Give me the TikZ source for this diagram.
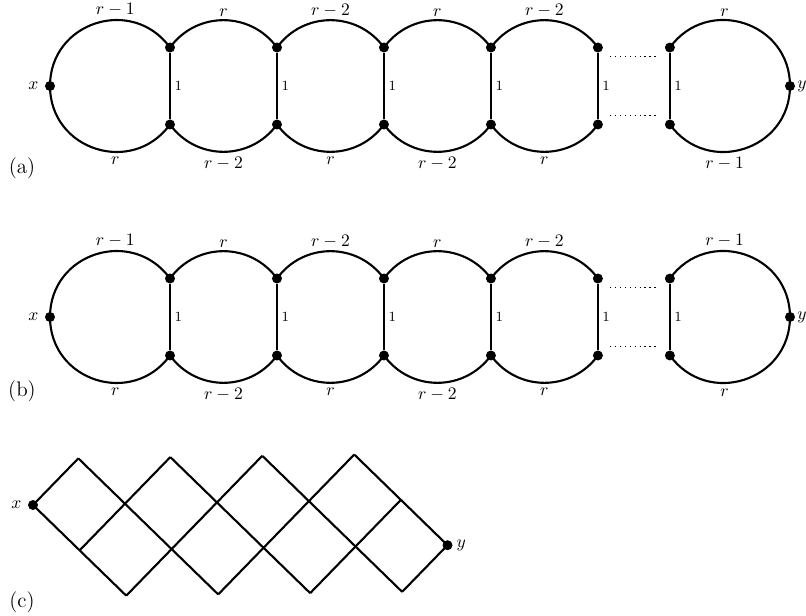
\documentclass[tikz,border=0pt]{standalone}
\usetikzlibrary{positioning}

\begin{document}
\begin{tikzpicture}[
  x=0.02cm,y=0.02cm,on grid,
  vtx/.style={circle,fill=black,inner sep=0pt,minimum size=0.2cm},
  rim/.style={line width=1.2pt,looseness=1.08},
  endrim/.style={line width=1.2pt,looseness=1.3},
  rung/.style={line width=1.2pt},
  tl/.style={above,inner sep=1.5pt},
  bl/.style={below,inner sep=2.5pt},
  wt/.style={right,font=\footnotesize,inner sep=2pt},
  gap/.style={line width=0.8pt,dotted},
  lat/.style={line width=1.2pt,line join=miter},
  tag/.style={font=\large}
]
\useasboundingbox (0,0) rectangle (806,-616);

% (a)
\node[vtx,label=left:$x$] (xa) at (50,-86) {};
\node[vtx] (a1t) at (170,-47.5) {};
\node[vtx,below=1.54cm of a1t] (a1b) {};
\node[vtx,right=2.14cm of a1t] (a2t) {};
\node[vtx,right=2.14cm of a1b] (a2b) {};
\node[vtx,right=2.14cm of a2t] (a3t) {};
\node[vtx,right=2.14cm of a2b] (a3b) {};
\node[vtx,right=2.14cm of a3t] (a4t) {};
\node[vtx,right=2.14cm of a3b] (a4b) {};
\node[vtx,right=2.14cm of a4t] (a5t) {};
\node[vtx,right=2.14cm of a4b] (a5b) {};
\node[vtx,right=1.44cm of a5t] (a6t) {};
\node[vtx,right=1.44cm of a5b] (a6b) {};
\node[vtx,label={[inner sep=1pt]right:$y$}] (ya) at (790,-86) {};
\coordinate (a5u) at (610,-56.5);
\coordinate (a6u) at (657,-56.5);
\coordinate (a5d) at (610,-115.5);
\coordinate (a6d) at (657,-115.5);
\node[tag] (taga) at (22,-168) {(a)};

\draw[endrim] (a1t.center) to[out=126,in=90] node[pos=0.376,tl] {$r-1$} (xa.center);
\draw[endrim] (xa.center) to[out=270,in=234] node[pos=0.624,bl] {$r$} (a1b.center);
\draw[rim] (a1t.center) to[out=54,in=126] node[tl] {$r$} (a2t.center);
\draw[rim] (a1b.center) to[out=-54,in=234] node[bl] {$r-2$} (a2b.center);
\draw[rim] (a2t.center) to[out=54,in=126] node[tl] {$r-2$} (a3t.center);
\draw[rim] (a2b.center) to[out=-54,in=234] node[bl] {$r$} (a3b.center);
\draw[rim] (a3t.center) to[out=54,in=126] node[tl] {$r$} (a4t.center);
\draw[rim] (a3b.center) to[out=-54,in=234] node[bl] {$r-2$} (a4b.center);
\draw[rim] (a4t.center) to[out=54,in=126] node[tl] {$r-2$} (a5t.center);
\draw[rim] (a4b.center) to[out=-54,in=234] node[bl] {$r$} (a5b.center);
\draw[endrim] (a6t.center) to[out=54,in=90] node[pos=0.376,tl] {$r$} (ya.center);
\draw[endrim] (ya.center) to[out=270,in=306] node[pos=0.624,bl] {$r-1$} (a6b.center);
\draw[rung] (a1t) -- node[wt] {1} (a1b);
\draw[rung] (a2t) -- node[wt] {1} (a2b);
\draw[rung] (a3t) -- node[wt] {1} (a3b);
\draw[rung] (a4t) -- node[wt] {1} (a4b);
\draw[rung] (a5t) -- node[wt] {1} (a5b);
\draw[rung] (a6t) -- node[wt] {1} (a6b);
\draw[gap] (a5u) -- (a6u);
\draw[gap] (a5d) -- (a6d);

% (b)
\node[vtx,label=left:$x$] (xb) at (50,-317) {};
\node[vtx] (b1t) at (170,-278.5) {};
\node[vtx,below=1.54cm of b1t] (b1b) {};
\node[vtx,right=2.14cm of b1t] (b2t) {};
\node[vtx,right=2.14cm of b1b] (b2b) {};
\node[vtx,right=2.14cm of b2t] (b3t) {};
\node[vtx,right=2.14cm of b2b] (b3b) {};
\node[vtx,right=2.14cm of b3t] (b4t) {};
\node[vtx,right=2.14cm of b3b] (b4b) {};
\node[vtx,right=2.14cm of b4t] (b5t) {};
\node[vtx,right=2.14cm of b4b] (b5b) {};
\node[vtx,right=1.44cm of b5t] (b6t) {};
\node[vtx,right=1.44cm of b5b] (b6b) {};
\node[vtx,label={[inner sep=1pt]right:$y$}] (yb) at (790,-317) {};
\coordinate (b5u) at (610,-287.5);
\coordinate (b6u) at (657,-287.5);
\coordinate (b5d) at (610,-346.5);
\coordinate (b6d) at (657,-346.5);
\node[tag] (tagb) at (22,-391) {(b)};

\draw[endrim] (b1t.center) to[out=126,in=90] node[pos=0.376,tl] {$r-1$} (xb.center);
\draw[endrim] (xb.center) to[out=270,in=234] node[pos=0.624,bl] {$r$} (b1b.center);
\draw[rim] (b1t.center) to[out=54,in=126] node[tl] {$r$} (b2t.center);
\draw[rim] (b1b.center) to[out=-54,in=234] node[bl] {$r-2$} (b2b.center);
\draw[rim] (b2t.center) to[out=54,in=126] node[tl] {$r-2$} (b3t.center);
\draw[rim] (b2b.center) to[out=-54,in=234] node[bl] {$r$} (b3b.center);
\draw[rim] (b3t.center) to[out=54,in=126] node[tl] {$r$} (b4t.center);
\draw[rim] (b3b.center) to[out=-54,in=234] node[bl] {$r-2$} (b4b.center);
\draw[rim] (b4t.center) to[out=54,in=126] node[tl] {$r-2$} (b5t.center);
\draw[rim] (b4b.center) to[out=-54,in=234] node[bl] {$r$} (b5b.center);
\draw[endrim] (b6t.center) to[out=54,in=90] node[pos=0.376,tl] {$r-1$} (yb.center);
\draw[endrim] (yb.center) to[out=270,in=306] node[pos=0.624,bl] {$r$} (b6b.center);
\draw[rung] (b1t) -- node[wt] {1} (b1b);
\draw[rung] (b2t) -- node[wt] {1} (b2b);
\draw[rung] (b3t) -- node[wt] {1} (b3b);
\draw[rung] (b4t) -- node[wt] {1} (b4b);
\draw[rung] (b5t) -- node[wt] {1} (b5b);
\draw[rung] (b6t) -- node[wt] {1} (b6b);
\draw[gap] (b5u) -- (b6u);
\draw[gap] (b5d) -- (b6d);

% (c)
\begin{scope}[shift={(33,-505)},rotate=0.8,x=0.92cm,y=0.92cm]
\node[vtx,label=left:$x$] (xc) at (0,0) {};
\node[vtx,label={[inner sep=2pt]right:$y$}] (yc) at (9,-1) {};
\coordinate (p1) at (1,1);
\coordinate (p3) at (3,1);
\coordinate (p5) at (5,1);
\coordinate (p7) at (7,1);
\coordinate (v2) at (2,-2);
\coordinate (v4) at (4,-2);
\coordinate (v6) at (6,-2);
\coordinate (v8) at (8,-2);
\coordinate (l1) at (1,-1);
\coordinate (m8) at (8,0);
\end{scope}
\node[tag] (tagc) at (22,-602) {(c)};

\draw[lat] (xc.center) -- (p1);
\draw[lat] (xc.center) -- (v2);
\draw[lat] (p1) -- (v4);
\draw[lat] (l1) -- (p3);
\draw[lat] (p3) -- (v6);
\draw[lat] (v2) -- (p5);
\draw[lat] (p5) -- (v8);
\draw[lat] (v4) -- (p7);
\draw[lat] (p7) -- (yc.center);
\draw[lat] (v6) -- (m8);
\draw[lat] (v8) -- (yc.center);
\end{tikzpicture}
\end{document}
